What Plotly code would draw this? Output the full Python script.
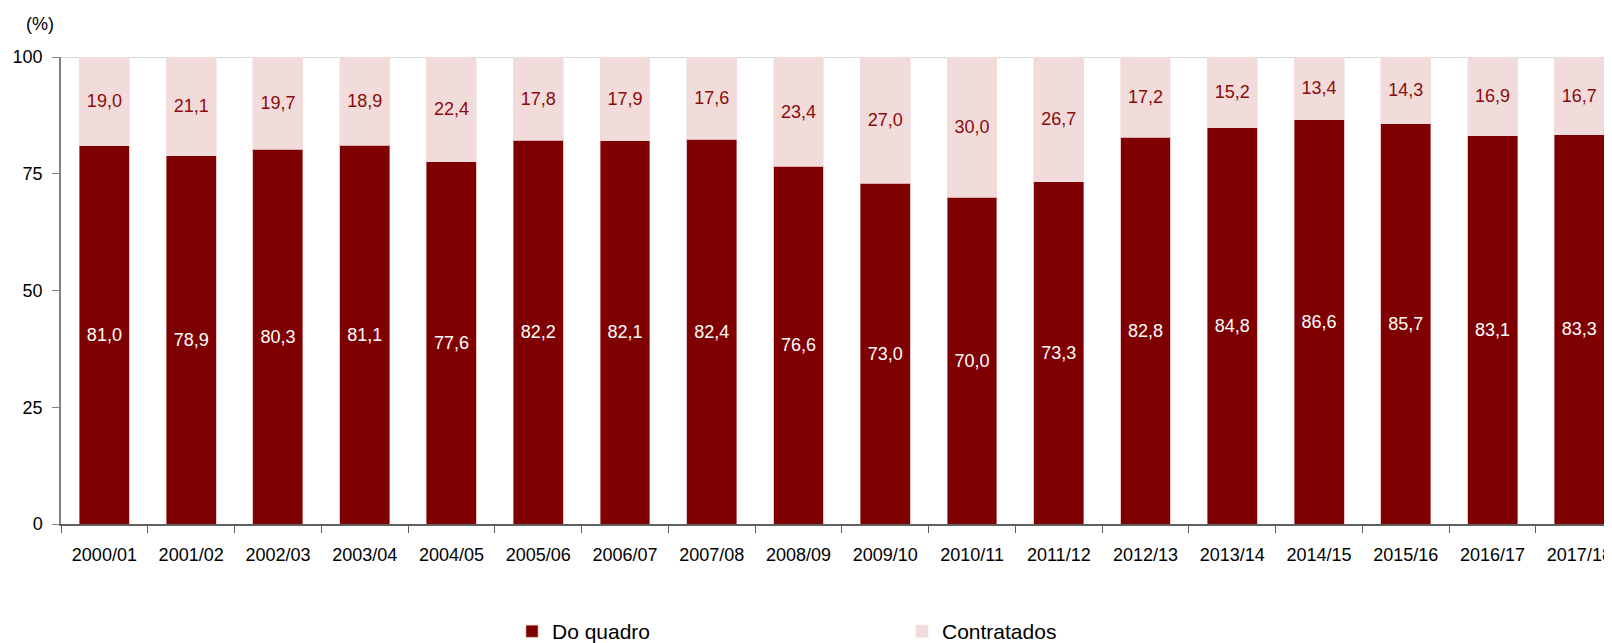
import plotly.graph_objects as go

# anos lectivos
anos = ["2000/01", "2001/02", "2002/03", "2003/04", "2004/05", "2005/06",
        "2006/07", "2007/08", "2008/09", "2009/10", "2010/11", "2011/12",
        "2012/13", "2013/14", "2014/15", "2015/16", "2016/17", "2017/18"]
do_quadro = [81.0, 78.9, 80.3, 81.1, 77.6, 82.2, 82.1, 82.4, 76.6,
             73.0, 70.0, 73.3, 82.8, 84.8, 86.6, 85.7, 83.1, 83.3]
contratados = [19.0, 21.1, 19.7, 18.9, 22.4, 17.8, 17.9, 17.6, 23.4,
               27.0, 30.0, 26.7, 17.2, 15.2, 13.4, 14.3, 16.9, 16.7]

FONT = "Liberation Sans, Arial, sans-serif"
FS = 18

fig = go.Figure()
fig.add_trace(go.Bar(
    x=anos, y=do_quadro, name="Do quadro",
    marker=dict(color="#7f0000", line=dict(color="#d9a3a3", width=0.6)),
    texttemplate="%{y:.1f}", textposition="inside",
    insidetextanchor="middle",
    textfont=dict(color="white", size=FS, family=FONT),
))
fig.add_trace(go.Bar(
    x=anos, y=contratados, name="Contratados",
    marker=dict(color="#f2dcdb", line=dict(color="#f2dcdb", width=0.6)),
    texttemplate="%{y:.1f}", textposition="inside",
    insidetextanchor="middle",
    textfont=dict(color="#8b0a0a", size=FS, family=FONT),
))

# linha cinzenta no topo (100)
fig.add_shape(type="line", xref="paper", x0=0, x1=1, yref="y", y0=100, y1=100,
              line=dict(color="#d9d9d9", width=2), layer="below")

fig.add_annotation(text="(%)", xref="paper", yref="paper", x=-0.0135, y=1.0707,
                   xanchor="center", yanchor="middle", showarrow=False,
                   font=dict(size=FS, color="black", family=FONT))

# a pagina tem 8px de margem no body
fig.update_layout(
    barmode="stack",
    bargap=0.425,
    separators=",.",
    width=1604, height=635,
    margin=dict(l=53, r=0, t=49, b=119),
    plot_bgcolor="white", paper_bgcolor="white",
    font=dict(family=FONT, size=FS, color="black"),
    uniformtext=dict(minsize=FS, mode="show"),
    legend=dict(orientation="h", xref="container", yref="container",
                x=0.3142, y=0.018, xanchor="left", yanchor="middle",
                traceorder="normal",
                entrywidthmode="pixels", entrywidth=345,
                font=dict(size=21, color="black", family=FONT)),
    showlegend=True,
)
fig.update_xaxes(
    type="category", range=[-0.5, 17.33],
    showline=True, linecolor="#5f5f5f", linewidth=1.5,
    ticks="outside", tickson="boundaries", ticklen=7, tickcolor="#5f5f5f",
    showgrid=False, ticklabelstandoff=14,
    tickfont=dict(size=FS, color="black"),
)
fig.update_yaxes(
    range=[0, 100], tickvals=[0, 25, 50, 75, 100],
    showline=True, linecolor="#808080", linewidth=1.5,
    ticks="outside", ticklen=7, tickcolor="#808080",
    showgrid=False, zeroline=False, ticklabelstandoff=6,
    tickfont=dict(size=FS, color="black"),
)

fig.write_html("out.html")
